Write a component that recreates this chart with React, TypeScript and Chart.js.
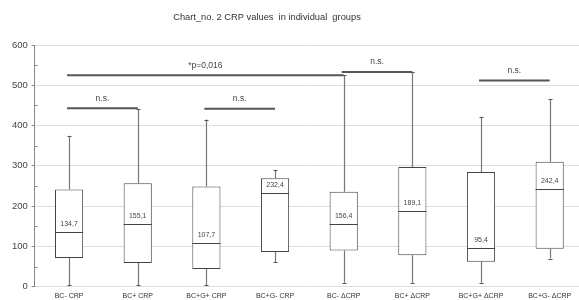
import React, { useEffect, useRef } from 'react';
import { Chart, registerables } from 'chart.js';
Chart.register(...registerables);

const categories = ['BC- CRP', 'BC+ CRP', 'BC+G+ CRP', 'BC+G- CRP', 'BC- ΔCRP', 'BC+ ΔCRP', 'BC+G+ ΔCRP', 'BC+G- ΔCRP'];
const mins = [3, 3, 3, 61, 10, 10, 10, 70];
const q1s = [71, 59, 44, 86, 90, 78, 62, 94];
const medians = [134.7, 155.1, 107.7, 232.4, 156.4, 189.1, 95.4, 242.4];
const q3s = [241, 257, 249, 269, 236, 297, 285, 310];
const maxs = [375, 440, 415, 289, 525, 533, 422, 466];
const medianLabels = ['134,7', '155,1', '107,7', '232,4', '156,4', '189,1', '95,4', '242,4'];

const bracketFrom = [0, 0, 2, 4, 6];
const bracketTo = [4, 1, 3, 5, 7];
const bracketValues = [525, 443, 442, 533, 512];
const bracketLabels = ['*p=0,016', 'n.s.', 'n.s.', 'n.s.', 'n.s.'];

const yTicks = [0, 100, 200, 300, 400, 500, 600];
const yMinorTicks = [50, 150, 250, 350, 450, 550];

const titleText = 'Chart_no. 2 CRP values  in individual  groups';
const FONT = '"Liberation Sans", Arial, sans-serif';

const boxPlugin = {
  id: 'boxExtras',
  afterDatasetsDraw(chart: any) {
    const ctx = chart.ctx;
    const xs = chart.scales.x;
    const ys = chart.scales.y;
    const meta = chart.getDatasetMeta(0);
    ctx.save();
    // minor ticks
    ctx.strokeStyle = '#888';
    ctx.lineWidth = 1;
    yMinorTicks.forEach((v) => {
      const y = Math.round(ys.getPixelForValue(v)) + 0.5;
      ctx.beginPath();
      ctx.moveTo(ys.right, y);
      ctx.lineTo(ys.right + 3, y);
      ctx.stroke();
    });
    categories.forEach((_, i) => {
      const x = Math.round(xs.getPixelForValue(i)) + 0.5;
      const bar = meta.data[i];
      const half = bar.width / 2;
      const yMax = ys.getPixelForValue(maxs[i]);
      const yQ3 = ys.getPixelForValue(q3s[i]);
      const yQ1 = ys.getPixelForValue(q1s[i]);
      const yMin = ys.getPixelForValue(mins[i]);
      const yMed = Math.round(ys.getPixelForValue(medians[i])) + 0.5;
      ctx.strokeStyle = '#777';
      ctx.lineWidth = 1.2;
      ctx.beginPath();
      ctx.moveTo(x, yQ3);
      ctx.lineTo(x, yMax);
      ctx.moveTo(x, yQ1);
      ctx.lineTo(x, yMin);
      ctx.stroke();
      ctx.strokeStyle = '#555';
      ctx.lineWidth = 1;
      ctx.beginPath();
      ctx.moveTo(x - 2, Math.round(yMax) + 0.5);
      ctx.lineTo(x + 2, Math.round(yMax) + 0.5);
      ctx.moveTo(x - 2, Math.round(yMin) + 0.5);
      ctx.lineTo(x + 2, Math.round(yMin) + 0.5);
      ctx.stroke();
      ctx.strokeStyle = '#444';
      ctx.beginPath();
      ctx.moveTo(bar.x - half, yMed);
      ctx.lineTo(bar.x + half, yMed);
      ctx.stroke();
      ctx.fillStyle = '#444';
      ctx.font = `7px ${FONT}`;
      ctx.textAlign = 'center';
      ctx.textBaseline = 'middle';
      ctx.fillText(medianLabels[i], bar.x, yMed - 8);
    });
    // brackets
    ctx.strokeStyle = '#555';
    ctx.lineWidth = 2;
    ctx.fillStyle = '#444';
    ctx.font = `8.5px ${FONT}`;
    bracketValues.forEach((v, k) => {
      const x1 = xs.getPixelForValue(bracketFrom[k]) - 2;
      const x2 = xs.getPixelForValue(bracketTo[k]);
      const y = ys.getPixelForValue(v);
      ctx.beginPath();
      ctx.moveTo(x1, y);
      ctx.lineTo(x2, y);
      ctx.stroke();
      ctx.fillText(bracketLabels[k], (x1 + x2) / 2, y - 10);
    });
    // title
    ctx.fillStyle = '#333';
    ctx.font = `9.3px ${FONT}`;
    ctx.fillText(titleText, 267, 17.5);
    ctx.restore();
  },
};

export default function App() {
  const ref = useRef<HTMLCanvasElement>(null);
  useEffect(() => {
    if (!ref.current) return;
    const chart = new Chart(ref.current, {
      type: 'bar',
      data: {
        labels: categories,
        datasets: [
          {
            data: q1s.map((q, i) => [q, q3s[i]]) as any,
            backgroundColor: '#ffffff',
            borderColor: '#444',
            borderWidth: 1,
            borderSkipped: false,
            barPercentage: 0.41,
            categoryPercentage: 1,
          },
        ],
      },
      options: {
        responsive: false,
        animation: false,
        devicePixelRatio: 1,
        layout: { padding: { top: 45, left: 0, right: 0, bottom: 0 } },
        plugins: { legend: { display: false }, tooltip: { enabled: false }, title: { display: false } },
        scales: {
          x: {
            grid: { display: false, drawTicks: false, tickLength: 0 },
            border: { display: false },
            ticks: { font: { size: 7, family: FONT }, color: '#333', padding: 5, maxRotation: 0, autoSkip: false },
            afterFit: (s: any) => { s.height = 13.3; },
          },
          y: {
            min: 0,
            max: 600,
            afterBuildTicks: (s: any) => { s.ticks = yTicks.map((v) => ({ value: v })); },
            ticks: { font: { size: 9.5, family: FONT }, color: '#444', padding: 4, autoSkip: false },
            grid: { color: '#dedede', tickColor: '#888', tickLength: 3 },
            border: { color: '#888' },
            afterFit: (s: any) => { s.width = 34.75; },
          },
        },
      },
      plugins: [boxPlugin],
    });
    return () => chart.destroy();
  }, []);
  return (
    <div style={{ position: 'fixed', left: 0, top: 0, width: 579, height: 300, overflow: 'hidden', background: '#fff' }}>
      <canvas ref={ref} width={584} height={300} style={{ width: 584, height: 300, display: 'block' }} />
    </div>
  );
}
